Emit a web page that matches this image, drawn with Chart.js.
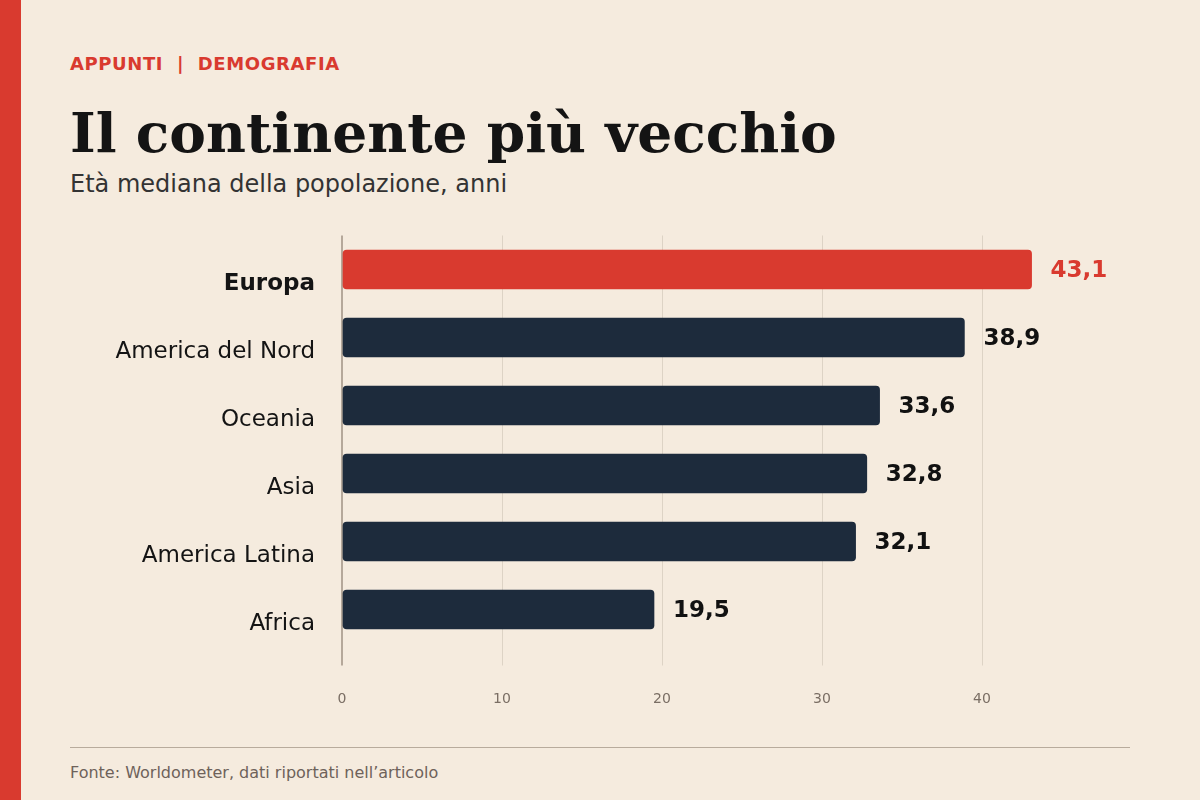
<!DOCTYPE html>
<html>
<head>
<meta charset="utf-8">
<script src="https://cdn.jsdelivr.net/npm/chart.js@4"></script>
<style>
  html, body { margin: 0; padding: 0; }
  body { width: 1200px; height: 800px; background: #f5ebde; position: relative; overflow: hidden; font-family: "DejaVu Sans", sans-serif; }
  .strip { position: absolute; left: 0; top: 0; width: 21px; height: 800px; background: #d93a2f; }
  .t { position: absolute; left: 70px; line-height: 1; white-space: pre; }
  #kicker { top: 55px; font-size: 18px; font-weight: bold; color: #d93a2f; letter-spacing: 0.6px; }
  #title { top: 105px; font-family: "DejaVu Serif", serif; font-weight: bold; font-size: 55px; color: #141414; }
  #sub { top: 172px; font-size: 24px; color: #333; }
  #rule { position: absolute; left: 70px; top: 747px; width: 1060px; height: 1px; background: #b8ab9c; }
  #source { top: 765px; font-size: 16px; color: #6e625a; }
  #wrap { position: absolute; left: 0; top: 0; width: 1200px; height: 800px; }
</style>
</head>
<body>
<div class="strip"></div>
<div class="t" id="kicker">APPUNTI  |  DEMOGRAFIA</div>
<div class="t" id="title">Il continente più vecchio</div>
<div class="t" id="sub">Età mediana della popolazione, anni</div>
<div id="rule"></div>
<div class="t" id="source">Fonte: Worldometer, dati riportati nell’articolo</div>
<div id="wrap"><canvas id="myChart"></canvas></div>
<script>
const continents = ["Europa", "America del Nord", "Oceania", "Asia", "America Latina", "Africa"]
const medianAge = [43.1, 38.9, 33.6, 32.8, 32.1, 19.5]
const xTicks = [0, 10, 20, 30, 40]

const red = "#d93a2f"
const navy = "#1d2b3c"

// scrive il valore a destra di ogni barra
const valueLabels = {
  id: "valueLabels",
  afterDatasetsDraw(chart) {
    const ctx = chart.ctx
    const meta = chart.getDatasetMeta(0)
    ctx.save()
    ctx.font = "bold 23px 'DejaVu Sans'"
    ctx.textBaseline = "middle"
    ctx.textAlign = "left"
    meta.data.forEach((bar, i) => {
      ctx.fillStyle = i === 0 ? red : "#111111"
      ctx.fillText(medianAge[i].toFixed(1).replace(".", ","), bar.x + 19, bar.y + 1.5)
    })
    ctx.restore()
  }
}

const data = {
  labels: continents,
  datasets: [{
    data: medianAge,
    backgroundColor: continents.map((c, i) => i === 0 ? red : navy),
    barThickness: 39,
    borderRadius: 4,
    borderSkipped: false,
  }]
}

const config = {
  type: "bar",
  data: data,
  options: {
    indexAxis: "y",
    responsive: true,
    maintainAspectRatio: false,
    animation: false,
    devicePixelRatio: 1,
    layout: { padding: { left: 0, top: 235.5, right: 90, bottom: 0 } },
    plugins: {
      legend: { display: false },
      tooltip: { enabled: false },
    },
    scales: {
      x: {
        min: 0,
        max: 48,
        afterFit: s => { s.height = 156.5 },
        afterBuildTicks: s => { s.ticks = xTicks.map(v => ({ value: v })) },
        border: { display: false },
        grid: {
          color: c => c.index === 0 ? "#b5a89a" : "#ddd3c5",
          lineWidth: c => c.index === 0 ? 2 : 1,
          tickLength: 22,
          drawTicks: true,
        },
        ticks: {
          color: "#7a6e64",
          font: { family: "DejaVu Sans", size: 14 },
          padding: 25,
        }
      },
      y: {
        afterFit: s => { s.width = 342 },
        border: { display: false },
        grid: { display: false, drawTicks: false },
        ticks: {
          color: "#141414",
          labelOffset: 15,
          padding: 27,
          font: c => ({ family: "DejaVu Sans", size: 23, weight: c.index === 0 ? "bold" : "normal" }),
        }
      }
    }
  },
  plugins: [valueLabels]
}

const MyChart = new Chart(document.getElementById("myChart"), config)
</script>
</body>
</html>
